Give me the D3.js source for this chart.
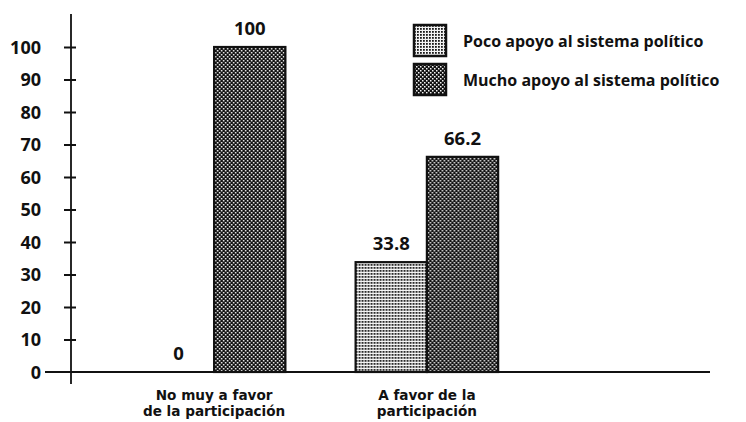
<!DOCTYPE html>
<html>
<head>
<meta charset="utf-8">
<script src="https://cdn.jsdelivr.net/npm/d3@7"></script>
<style>
  html, body { margin: 0; padding: 0; background: #fff; }
  svg { display: block; }
  text { font-family: "Open Sans", Lato, sans-serif; font-weight: bold; fill: #111; }
  text.cat { font-family: "DejaVu Sans", sans-serif; }
</style>
</head>
<body>
<svg id="chart" width="746" height="422"></svg>
<script>
// Categories, series and values
const categories = ["No muy a favor de la participación", "A favor de la participación"];
const categoryLines = [["No muy a favor", "de la participación"], ["A favor de la", "participación"]];
const seriesNames = ["Poco apoyo al sistema político", "Mucho apoyo al sistema político"];
const pocoValues = [0, 33.8];
const muchoValues = [100, 66.2];
const valueLabels = [["0", "100"], ["33.8", "66.2"]];
const yTicks = [0, 10, 20, 30, 40, 50, 60, 70, 80, 90, 100];

const svg = d3.select("#chart");

// Halftone-like fills for the two series
const defs = svg.append("defs");
const pLight = defs.append("pattern").attr("id", "pat-poco")
  .attr("patternUnits", "userSpaceOnUse").attr("width", 3).attr("height", 3);
pLight.append("rect").attr("width", 3).attr("height", 3).attr("fill", "#f4f4f4");
pLight.append("rect").attr("x", 0).attr("y", 0).attr("width", 1.8).attr("height", 1.8).attr("fill", "#1a1a1a");

const pDark = defs.append("pattern").attr("id", "pat-mucho")
  .attr("patternUnits", "userSpaceOnUse").attr("width", 4).attr("height", 4);
pDark.append("rect").attr("width", 4).attr("height", 4).attr("fill", "#111");
pDark.append("rect").attr("x", 0).attr("y", 0).attr("width", 1.5).attr("height", 1.5).attr("fill", "#f4f4f4");
pDark.append("rect").attr("x", 2).attr("y", 2).attr("width", 1.5).attr("height", 1.5).attr("fill", "#f4f4f4");

const fills = ["url(#pat-poco)", "url(#pat-mucho)"];

// Scales
const y = d3.scaleLinear().domain([0, 100]).range([372, 47]);
const x0 = d3.scaleBand().domain(categories).range([72, 569]).paddingInner(0.33).paddingOuter(0.333);
const x1 = d3.scaleBand().domain(seriesNames).range([0, x0.bandwidth()]).padding(0);

// Y axis: vertical line with crossing ticks
const yAxis = d3.axisLeft(y).tickValues(yTicks).tickSize(0).tickPadding(30);
const gy = svg.append("g").attr("transform", "translate(71,0)").call(yAxis);
gy.select(".domain").remove();
gy.selectAll(".tick text").attr("font-size", 18).attr("fill", "#111").attr("dy", "0.35em");
gy.selectAll(".tick").filter(d => d > 0).append("line")
  .attr("x1", -7).attr("x2", 5).attr("stroke", "#111").attr("stroke-width", 2);
svg.append("line").attr("x1", 71).attr("x2", 71).attr("y1", 14).attr("y2", 384)
  .attr("stroke", "#111").attr("stroke-width", 1.8);

// Bars
const groups = svg.append("g").selectAll("g").data(categories).join("g")
  .attr("transform", d => `translate(${x0(d)},0)`);

groups.each(function(cat, i) {
  const g = d3.select(this);
  const vals = [pocoValues[i], muchoValues[i]];
  vals.forEach((v, j) => {
    const bx = x1(seriesNames[j]);
    if (v > 0) {
      g.append("rect")
        .attr("x", bx).attr("y", y(v))
        .attr("width", x1.bandwidth()).attr("height", y(0) - y(v))
        .attr("fill", fills[j]).attr("stroke", "#111").attr("stroke-width", 2.2);
    }
    g.append("text")
      .attr("x", bx + x1.bandwidth() / 2).attr("y", y(v) - 12)
      .attr("text-anchor", "middle").attr("font-size", 18.5)
      .text(valueLabels[i][j]);
  });
});

// Baseline at zero
svg.append("line").attr("x1", 45).attr("x2", 710).attr("y1", y(0)).attr("y2", y(0))
  .attr("stroke", "#111").attr("stroke-width", 2);

// Category labels, two lines each
categories.forEach((c, i) => {
  const cx = x0(c) + x0.bandwidth() / 2;
  categoryLines[i].forEach((line, k) => {
    svg.append("text").attr("class", "cat").attr("text-anchor", "middle").attr("font-size", 13.6)
      .attr("x", cx).attr("y", 400 + k * 16).text(line);
  });
});

// Legend
const legend = svg.append("g").attr("transform", "translate(414,25)");
seriesNames.forEach((s, j) => {
  const lg = legend.append("g").attr("transform", `translate(0,${j * 39})`);
  lg.append("rect").attr("x", 0).attr("y", 0).attr("width", 32).attr("height", 31)
    .attr("fill", fills[j]).attr("stroke", "#111").attr("stroke-width", 2.5);
  lg.append("text").attr("x", 49).attr("y", 16).attr("dy", "0.35em").attr("font-size", 16).text(s);
});
</script>
</body>
</html>
